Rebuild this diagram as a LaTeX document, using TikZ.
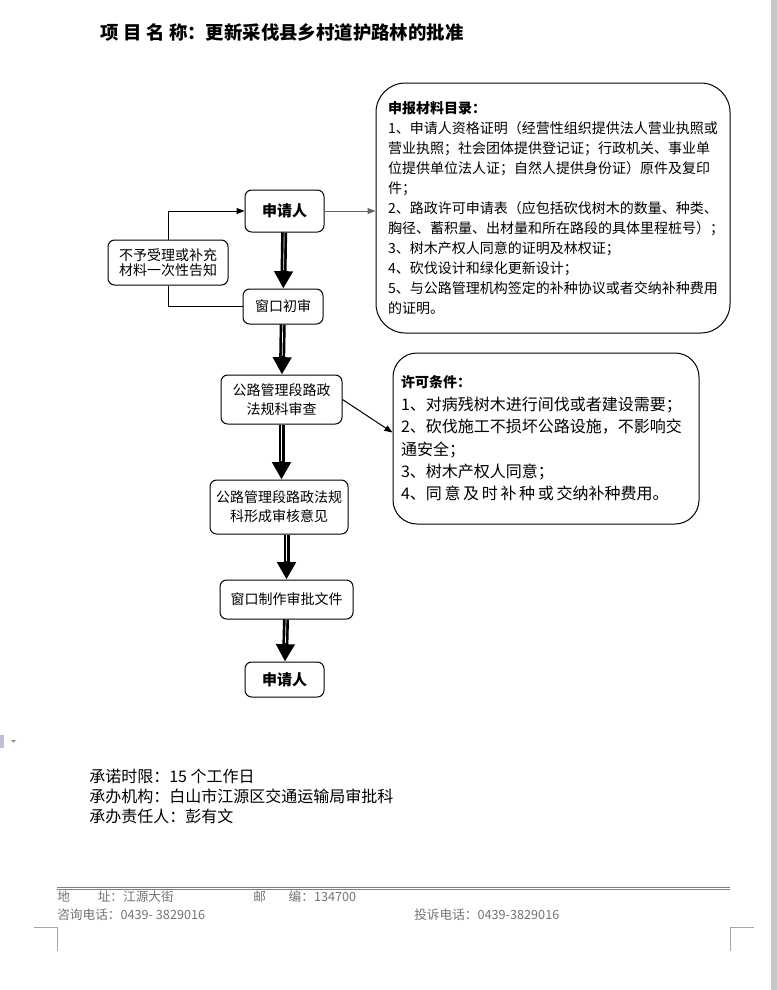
\documentclass[tikz,border=0pt]{standalone}
\usepackage{fontspec}
\setmainfont{Noto Sans CJK SC}
\usetikzlibrary{arrows.meta}

\begin{document}
\begin{tikzpicture}[x=0.75pt, y=-0.75pt, every node/.style={inner sep=0pt},
        box/.style={draw, line width=0.75pt, rounded corners=5pt, align=center,
            font=\fontsize{10.5pt}{14pt}\selectfont},
        listbox/.style={draw, line width=0.75pt, align=left},
        bigarrow/.style={line width=4.5pt, -{Triangle[width=13.5pt,length=13pt]},
            postaction={draw=white, line width=0.5pt, shorten >=14pt, -}},
        thinline/.style={line width=0.75pt},
        thinarrow/.style={thinline, -{Triangle[width=4.5pt,length=6pt]}},
        footer/.style={anchor=west, text=black!55, font=\fontsize{9.5pt}{12pt}\selectfont},
        cornermark/.style={draw=black!35, line width=0.75pt}]

    \useasboundingbox (0,0) rectangle (777,990);

    % title
    \node[anchor=west, font=\fontsize{13.8pt}{16pt}\selectfont\bfseries] (title) at (100,32)
        {项\kern3.4pt 目\kern3.4pt 名\kern3.4pt 称：更新采伐县乡村道护路林的批准};

    % flow
    \node[box, font=\fontsize{11.25pt}{14pt}\selectfont\bfseries, minimum width=59.25pt, minimum height=31.5pt] (applicant) at (284.5,211) {申请人};
    \node[box, minimum width=90pt, minimum height=33.75pt, font=\fontsize{10.5pt}{11.5pt}\selectfont] (notice) at (168,262.5) {不予受理或补充\\材料一次性告知};
    \node[box, minimum width=60pt, minimum height=26.25pt] (firstcheck) at (283,306.5) {窗口初审};
    \node[box, minimum width=90.75pt, minimum height=36.75pt] (review) at (281.5,399.5) {公路管理段路政\\法规科审查};
    \node[box, minimum width=103.5pt, minimum height=40.5pt] (opinion) at (279,507) {公路管理段路政法规\\科形成审核意见};
    \node[box, minimum width=99.75pt, minimum height=29.25pt] (document) at (286.5,599.5) {窗口制作审批文件};
    \node[box, font=\fontsize{11.25pt}{14pt}\selectfont\bfseries, minimum width=59.25pt, minimum height=26.25pt] (applicantend) at (284.5,679.5) {申请人};

    % side boxes
    \node[listbox, rounded corners=22pt, text width=247.5pt, inner xsep=9pt, minimum height=187.5pt,
        font=\fontsize{10.5pt}{15pt}\selectfont] (materials) at (553,208)
        {\textbf{申报材料目录：}\\
         1、申请人资格证明（经营性组织提供法人营业执照或\\
         营业执照；社会团体提供登记证；行政机关、事业单\\
         位提供单位法人证；自然人提供身份证）原件及复印\\
         件；\\
         2、路政许可申请表（应包括砍伐树木的数量、种类、\\
         胸径、蓄积量、出材量和所在路段的具体里程桩号）；\\
         3、树木产权人同意的证明及林权证；\\
         4、砍伐设计和绿化更新设计；\\
         5、与公路管理机构签定的补种协议或者交纳补种费用\\
         的证明。};
    \node[listbox, rounded corners=18pt, text width=217.5pt, inner xsep=6pt, minimum height=128.25pt,
        font=\fontsize{12pt}{16.8pt}\selectfont] (conditions) at (546,438.5)
        {\textbf{\fontsize{10.5pt}{16.8pt}\selectfont 许可条件：}\\
         1、对病残树木进行间伐或者建设需要；\\
         2、砍伐施工不损坏公路设施，不影响交\\
         通安全；\\
         3、树木产权人同意；\\
         4、同\kern2pt 意\kern2pt 及\kern2pt 时\kern2pt 补\kern2pt 种\kern2pt 或\kern2pt 交纳补种费用。};

    % connectors
    \draw[bigarrow] (applicant) -- (firstcheck);
    \draw[bigarrow] (firstcheck) -- (review);
    \draw[bigarrow] (review) -- (opinion.north -| review.south);
    \draw[bigarrow] (opinion.south -| document.north) -- (document);
    \draw[bigarrow] (document) -- (applicantend);
    \draw[thinline] (firstcheck.west) -| (notice.south);
    \draw[thinarrow] (notice.north) |- (applicant.west);
    \draw[thinarrow, black!60] (applicant.east) -- (applicant.east -| materials.west);
    \draw[thinarrow] (review.east) -- ([yshift=4.5pt]conditions.west);

    % notes
    \node[anchor=north west, align=left, font=\fontsize{12pt}{15pt}\selectfont] (promise) at (89,769)
        {承诺时限：15 个工作日\\承办机构：白山市江源区交通运输局审批科\\承办责任人：彭有文};

    % footer
    \draw[black!50, line width=0.75pt] (57,887) -- (730,887) (57,889.5) -- (730,889.5);
    \node[footer] (address) at (57,897) {地\hspace{2.2em}址：江源大街};
    \node[footer] (postcode) at (253,897) {邮\hspace{1.8em}编：134700};
    \node[footer] (consult) at (57,915) {咨询电话：0439- 3829016};
    \node[footer] (complain) at (414,915) {投诉电话：0439-3829016};
    \draw[cornermark] (34,927) -- (57,927) -- (57,951);
    \draw[cornermark] (754,927) -- (730,927) -- (730,951);

    % page edge and marker
    \fill[black!22] (771,0) rectangle (777,990);
    \fill[blue!25!gray!40] (0,735) rectangle (4,748);
    \fill[black!45] (11,740) -- (16,740) -- (13.5,742.5) -- cycle;
\end{tikzpicture}
\end{document}
